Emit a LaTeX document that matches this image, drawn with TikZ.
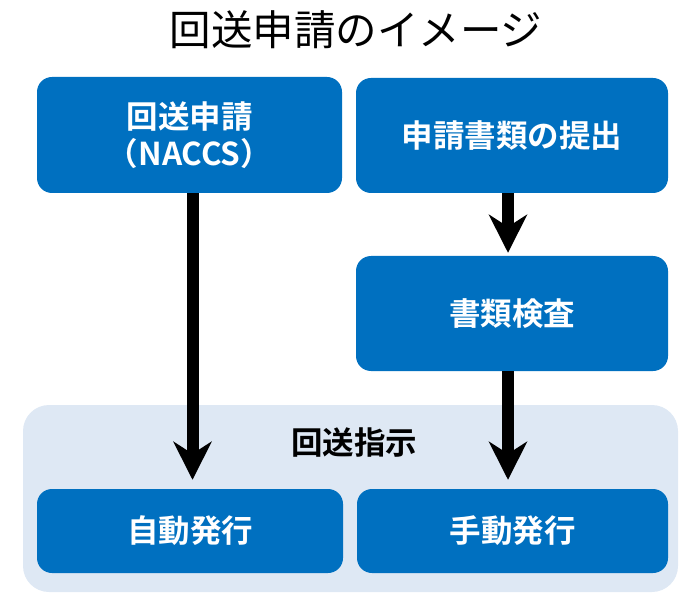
\documentclass[tikz,border=0pt]{standalone}
\usepackage{fontspec}
\setmainfont{Noto Sans CJK JP}[BoldFont={Noto Sans CJK JP Bold}]
\usetikzlibrary{arrows.meta}
\definecolor{boxblue}{HTML}{0070C0}
\definecolor{panelblue}{HTML}{DEE8F4}
\tikzset{
  bluebox/.style={rectangle, rounded corners=15pt, fill=boxblue, draw=none, inner sep=0pt,
    text=white, font=\bfseries\fontsize{31.5}{37}\selectfont, align=center},
  flowarrow/.style={line width=12pt, -{Stealth[length=38pt,width=38pt,inset=12pt]}}
}
\begin{document}
\begin{tikzpicture}[x=1pt,y=-1pt]
\useasboundingbox (0,0) rectangle (679,593);
\fill[panelblue, rounded corners=26pt] (23,405) rectangle (678,592);
\node[font=\fontsize{41.5}{48}\selectfont] (title) at (356,30) {回送申請のイメージ};
\node[bluebox, minimum width=305pt, minimum height=116pt] (b1) at (189.5,135) {回送申請\\（NACCS）};
\node[bluebox, minimum width=312pt, minimum height=115pt] (b2) at (512,135.5) {申請書類の提出};
\node[bluebox, minimum width=312pt, minimum height=115pt] (b3) at (512,313.5) {書類検査};
\node[font=\bfseries\fontsize{31.5}{37}\selectfont] (p) at (354,443) {回送指示};
\node[bluebox, minimum width=306pt, minimum height=84pt] (b4) at (190,531) {自動発行};
\node[bluebox, minimum width=311pt, minimum height=84pt] (b5) at (512.5,531) {手動発行};
\draw[flowarrow, shorten >=9pt] ([xshift=3pt]b1.south) -- ([xshift=3pt]b1.south |- b4.north);
\draw[flowarrow, shorten >=3pt] ([xshift=-4pt]b2.south) -- ([xshift=-4pt]b2.south |- b3.north);
\draw[flowarrow, shorten >=9pt] ([xshift=-4pt]b3.south) -- ([xshift=-4pt]b3.south |- b5.north);
\end{tikzpicture}
\end{document}
